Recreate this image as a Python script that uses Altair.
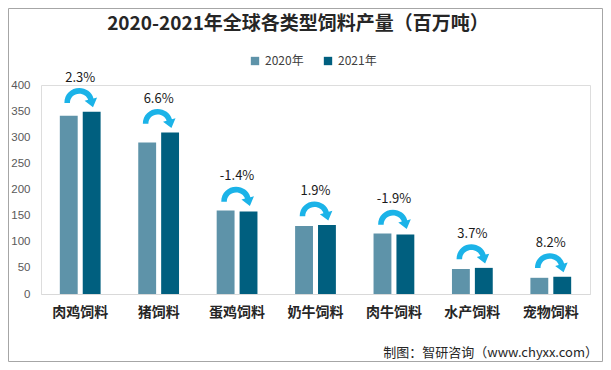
import altair as alt
import pandas as pd

categories = ["肉鸡饲料", "猪饲料", "蛋鸡饲料", "奶牛饲料", "肉牛饲料", "水产饲料", "宠物饲料"]
v2020 = [341, 290, 160, 130, 116, 48, 31]
v2021 = [349, 309, 158, 132, 114, 50, 33]
growth = ["2.3%", "6.6%", "-1.4%", "1.9%", "-1.9%", "3.7%", "8.2%"]
years = ["2020年", "2021年"]
colors = ["#5E93A9", "#005F7F"]
y_ticks = [0, 50, 100, 150, 200, 250, 300, 350, 400]
title_text = "2020-2021年全球各类型饲料产量（百万吨）"
source_text = "制图：智研咨询（www.chyxx.com）"

bars_df = pd.DataFrame(
    [{"cat": c, "year": years[0], "value": a} for c, a in zip(categories, v2020)]
    + [{"cat": c, "year": years[1], "value": b} for c, b in zip(categories, v2021)]
)
ann_df = pd.DataFrame({"cat": categories, "a": v2020, "b": v2021, "label": growth})

W, H = 549, 209
PL, PT, PR, PB = 33, 77, 13, 68

xscale = alt.Scale(domain=categories, paddingInner=0.48, paddingOuter=0.24)
yscale = alt.Scale(domain=[0, 400])

base_font = "Noto Sans CJK SC"

x_axis = alt.Axis(title=None, labelAngle=0, ticks=False, domainColor="#D9D9D9",
                  labelFontSize=14, labelFontWeight="bold", labelColor="#262626",
                  labelPadding=11, labelFont=base_font)
y_axis = alt.Axis(title=None, values=y_ticks, domain=False, ticks=False,
                  grid=False, labelFontSize=11.5, labelColor="#595959", labelPadding=11,
                  labelOverlap=False, labelFont="Liberation Sans")

bars = alt.Chart(bars_df).mark_bar().encode(
    x=alt.X("cat:N", scale=xscale, sort=categories, axis=x_axis),
    xOffset=alt.XOffset("year:N", scale=alt.Scale(paddingInner=0.22), sort=years),
    y=alt.Y("value:Q", scale=yscale, axis=y_axis),
    color=alt.Color("year:N", scale=alt.Scale(domain=years, range=colors),
                    legend=alt.Legend(title=None, orient="none", legendX=208, legendY=-30,
                                      direction="horizontal", symbolType="square", symbolSize=70,
                                      labelFontSize=12, labelColor="#404040", columnPadding=18,
                                      labelFont=base_font, symbolStrokeWidth=0)),
)

arrow_path = ("M -0.8 0.5 C -0.8 0.036 -0.442 -0.3 0 -0.3 "
              "C 0.362 -0.3 0.679 -0.072 0.773 0.256 "
              "L 0.966 0.204 L 0.745 0.73 L 0.29 0.386 L 0.483 0.334 "
              "C 0.4245 0.137 0.226 0 0 0 "
              "C -0.276 0 -0.5 0.201 -0.5 0.5 Z")

ann_base = alt.Chart(ann_df).transform_calculate(top="max(datum.a, datum.b)")

arrows = ann_base.mark_point(shape=arrow_path, size=1370, filled=True, fill="#1BB3E8",
                             opacity=1, strokeWidth=0, yOffset=-18, xOffset=-1).encode(
    x=alt.X("cat:N", scale=xscale, sort=categories, axis=x_axis),
    y=alt.Y("top:Q", scale=yscale, axis=y_axis),
)

labels = ann_base.mark_text(fontSize=13, color="#1a1a1a", baseline="middle", dy=-34,
                            font=base_font).encode(
    x=alt.X("cat:N", scale=xscale, sort=categories, axis=x_axis),
    y=alt.Y("top:Q", scale=yscale, axis=y_axis),
    text="label:N",
)

one = pd.DataFrame({"k": [0]})
title = alt.Chart(one).mark_text(text=title_text, fontSize=19, fontWeight="bold",
                                 align="center", baseline="middle", color="#262626",
                                 font=base_font).encode(
    x=alt.value(257), y=alt.value(-61))

source = alt.Chart(one).mark_text(text=source_text, fontSize=13,
                                  align="right", baseline="middle", color="#262626",
                                  font=base_font).encode(
    x=alt.value(W + 8), y=alt.value(H + 59))

border = alt.Chart(one).mark_rect(fill="transparent", stroke="#A6A6A6", strokeWidth=1).encode(
    x=alt.value(-PL + 0.5), x2=alt.value(W + PR - 0.5),
    y=alt.value(-PT + 0.5), y2=alt.value(H + PB - 0.5))

chart = alt.layer(border, bars, arrows, labels, title, source).properties(
    width=W, height=H,
    autosize=alt.AutoSizeParams(type="none"),
    padding={"left": PL, "top": PT, "right": PR, "bottom": PB},
).configure_view(stroke=None).configure(background="white")

chart.save("out.html", embed_options={"renderer": "svg", "actions": False})
